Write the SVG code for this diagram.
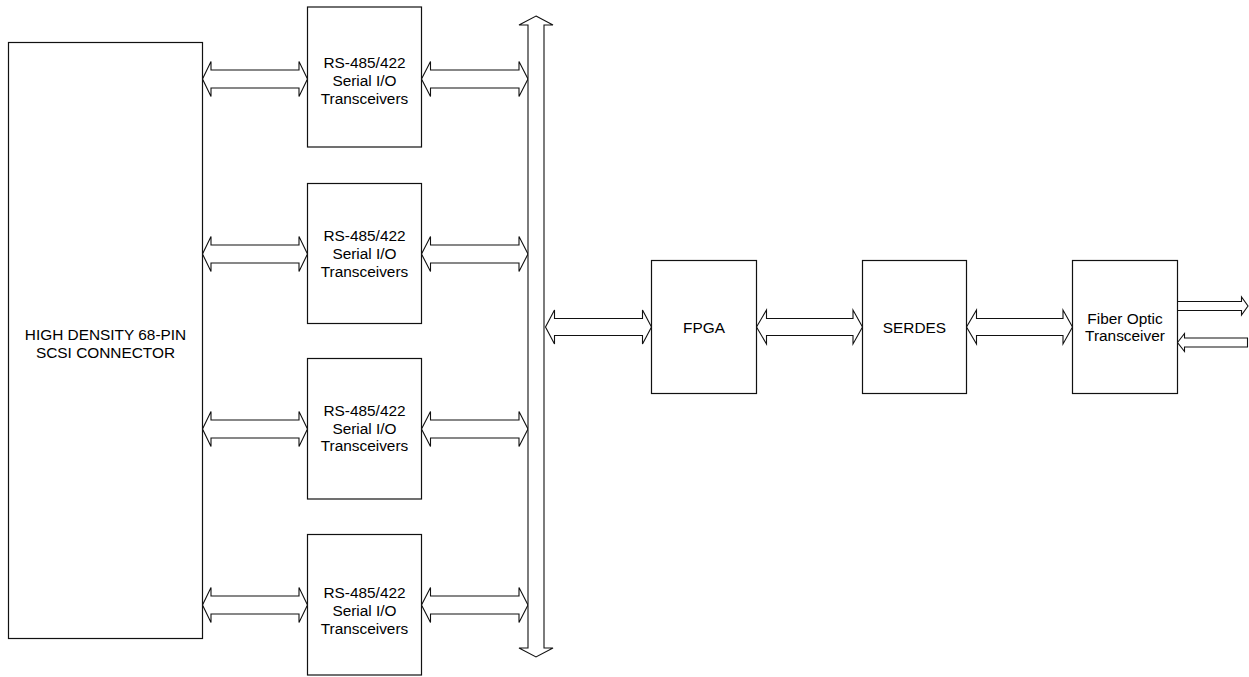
<svg xmlns="http://www.w3.org/2000/svg" width="1249" height="677" viewBox="0 0 1249 677">
<style>
.box{fill:#fff;stroke:#111;stroke-width:1.2}
.arr{fill:#fff;stroke:#111;stroke-width:1.1;stroke-linejoin:miter}
text{font-family:"Liberation Sans",Arial,sans-serif;font-size:15.4px;fill:#000;text-anchor:middle}
</style>
<rect width="1249" height="677" fill="#fff"/>
<g id="connectors">
<!-- connector to transceivers -->
<path class="arr" d="M202.5 79 L211 61.5 L211 70 L299 70 L299 61.5 L307.5 79 L299 96.5 L299 88 L211 88 L211 96.5 Z"/>
<path class="arr" d="M202.5 254 L211 236.5 L211 245 L299 245 L299 236.5 L307.5 254 L299 271.5 L299 263 L211 263 L211 271.5 Z"/>
<path class="arr" d="M202.5 429 L211 411.5 L211 420 L299 420 L299 411.5 L307.5 429 L299 446.5 L299 438 L211 438 L211 446.5 Z"/>
<path class="arr" d="M202.5 605 L211 587.5 L211 596 L299 596 L299 587.5 L307.5 605 L299 622.5 L299 614 L211 614 L211 622.5 Z"/>
<!-- transceivers to bus -->
<path class="arr" d="M421.5 79 L430.5 61.5 L430.5 70 L519 70 L519 61.5 L528 79 L519 96.5 L519 88 L430.5 88 L430.5 96.5 Z"/>
<path class="arr" d="M421.5 254 L430.5 236.5 L430.5 245 L519 245 L519 236.5 L528 254 L519 271.5 L519 263 L430.5 263 L430.5 271.5 Z"/>
<path class="arr" d="M421.5 429 L430.5 411.5 L430.5 420 L519 420 L519 411.5 L528 429 L519 446.5 L519 438 L430.5 438 L430.5 446.5 Z"/>
<path class="arr" d="M421.5 605 L430.5 587.5 L430.5 596 L519 596 L519 587.5 L528 605 L519 622.5 L519 614 L430.5 614 L430.5 622.5 Z"/>
<!-- vertical bus -->
<path class="arr" d="M536 16 L553 25 L544 25 L544 648 L553 648 L536 657 L519 648 L528 648 L528 25 L519 25 Z"/>
<!-- bus to FPGA -->
<path class="arr" d="M545.5 327 L554.5 310 L554.5 318.5 L642.5 318.5 L642.5 310 L651.5 327 L642.5 344 L642.5 335.5 L554.5 335.5 L554.5 344 Z"/>
<!-- FPGA to SERDES -->
<path class="arr" d="M756.5 327 L766.5 310 L766.5 318.5 L853 318.5 L853 310 L862.5 327 L853 344 L853 335.5 L766.5 335.5 L766.5 344 Z"/>
<!-- SERDES to Fiber -->
<path class="arr" d="M966.5 327 L976.5 310 L976.5 318.5 L1063 318.5 L1063 310 L1072.5 327 L1063 344 L1063 335.5 L976.5 335.5 L976.5 344 Z"/>
<!-- fiber out -->
<path class="arr" d="M1177.5 301.5 L1241.5 301.5 L1241.5 297 L1248 306 L1241.5 315 L1241.5 310.5 L1177.5 310.5"/>
<!-- fiber in -->
<path class="arr" d="M1177.5 342.5 L1184.5 333.5 L1184.5 338 L1247.5 338 L1247.5 347 L1184.5 347 L1184.5 351.5 Z"/>
</g>
<g id="scsi-connector">
<rect class="box" x="8.5" y="42.5" width="194" height="596"/>
<text x="105.5" y="340">HIGH DENSITY 68-PIN</text>
<text x="105.5" y="357.5">SCSI CONNECTOR</text>
</g>
<g id="transceiver-1">
<rect class="box" x="307.5" y="7" width="114" height="140"/>
<text x="364.5" y="68">RS-485/422</text>
<text x="364.5" y="86">Serial I/O</text>
<text x="364.5" y="103.5">Transceivers</text>
</g>
<g id="transceiver-2">
<rect class="box" x="307.5" y="183.5" width="114" height="140"/>
<text x="364.5" y="241">RS-485/422</text>
<text x="364.5" y="259">Serial I/O</text>
<text x="364.5" y="277">Transceivers</text>
</g>
<g id="transceiver-3">
<rect class="box" x="307.5" y="358.5" width="114" height="140.5"/>
<text x="364.5" y="416">RS-485/422</text>
<text x="364.5" y="433.5">Serial I/O</text>
<text x="364.5" y="451">Transceivers</text>
</g>
<g id="transceiver-4">
<rect class="box" x="307.5" y="534.5" width="114" height="140.5"/>
<text x="364.5" y="598">RS-485/422</text>
<text x="364.5" y="616">Serial I/O</text>
<text x="364.5" y="634">Transceivers</text>
</g>
<g id="fpga">
<rect class="box" x="651.5" y="260.5" width="105" height="133"/>
<text x="704" y="332.5">FPGA</text>
</g>
<g id="serdes">
<rect class="box" x="862.5" y="260.5" width="104" height="133"/>
<text x="914.5" y="332.5">SERDES</text>
</g>
<g id="fiber-optic-transceiver">
<rect class="box" x="1072.5" y="260.5" width="105" height="133"/>
<text x="1125" y="323.5">Fiber Optic</text>
<text x="1125" y="340.5">Transceiver</text>
</g>
</svg>
